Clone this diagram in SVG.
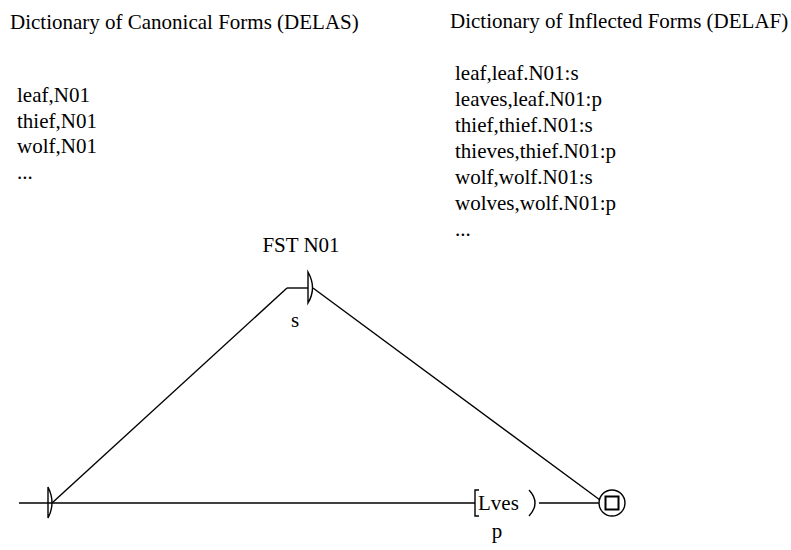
<svg xmlns="http://www.w3.org/2000/svg" width="791" height="550" viewBox="0 0 791 550">
<style>
text{font-family:"Liberation Serif","Times New Roman",serif;font-size:21px;fill:#000}
.ln{stroke:#000;stroke-width:1.4;fill:none}
</style>
<rect width="791" height="550" fill="#fff"/>
<g id="titles">
<text x="10" y="29">Dictionary of Canonical Forms (DELAS)</text>
<text x="450" y="28">Dictionary of Inflected Forms (DELAF)</text>
</g>
<g id="delas">
<text x="17" y="102">leaf,N01</text>
<text x="17" y="127.5">thief,N01</text>
<text x="17" y="153">wolf,N01</text>
<text x="17" y="179">...</text>
</g>
<g id="delaf">
<text x="455" y="80">leaf,leaf.N01:s</text>
<text x="455" y="106">leaves,leaf.N01:p</text>
<text x="455" y="132">thief,thief.N01:s</text>
<text x="455" y="158">thieves,thief.N01:p</text>
<text x="455" y="184">wolf,wolf.N01:s</text>
<text x="455" y="210">wolves,wolf.N01:p</text>
<text x="455" y="236">...</text>
</g>
<text id="fst-title" x="301" y="252" text-anchor="middle">FST N01</text>
<g id="connectors" class="ln">
<line x1="19" y1="503" x2="599" y2="503"/>
<line x1="52" y1="503" x2="287" y2="288"/>
<line x1="313" y1="288" x2="600" y2="500"/>
</g>
<g id="start">
<path class="ln" d="M48 487 L48 518 Q56 503 48 487 Z"/>
</g>
<g id="box-s">
<line class="ln" x1="287" y1="288" x2="308" y2="288"/>
<path class="ln" d="M308 272 L308 303 Q317 288 308 272 Z"/>
<text x="295" y="327" text-anchor="middle">s</text>
</g>
<g id="box-lves">
<rect x="475" y="490" width="64" height="26" fill="#fff"/>
<path class="ln" d="M479 490 L475 490 L475 516 L479 516"/>
<path class="ln" d="M529 490 Q541 503 529 516"/>
<text x="478" y="510">Lves</text>
<text x="497" y="538" text-anchor="middle">p</text>
</g>
<g id="final">
<circle class="ln" cx="612" cy="503" r="13" fill="#fff"/>
<rect x="605.5" y="496.5" width="13" height="13" fill="none" stroke="#000" stroke-width="2"/>
</g>
</svg>
